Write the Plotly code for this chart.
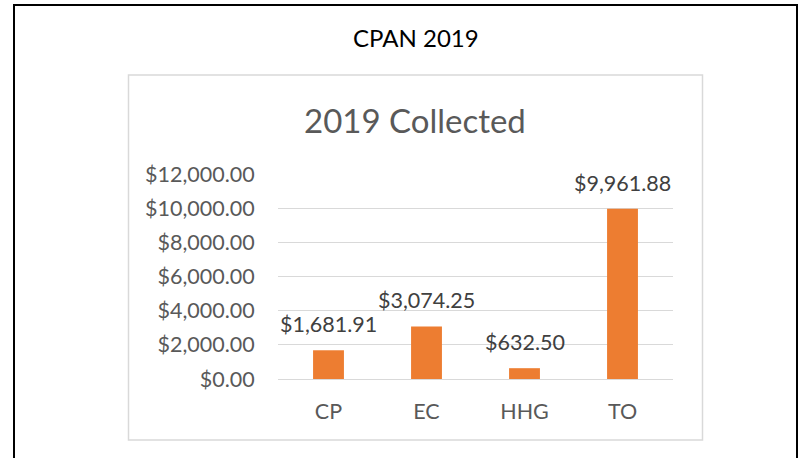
import plotly.graph_objects as go

categories = ["CP", "EC", "HHG", "TO"]
values = [1681.91, 3074.25, 632.50, 9961.88]
label_texts = ["$1,681.91", "$3,074.25", "$632.50", "$9,961.88"]
y_ticks = [0, 2000, 4000, 6000, 8000, 10000, 12000]
y_tick_labels = ["$0.00", "$2,000.00", "$4,000.00", "$6,000.00", "$8,000.00", "$10,000.00", "$12,000.00"]

W, H = 809, 458
FONT = "Lato, 'Open Sans', sans-serif"

def px_x(x):
    return x / W

def px_y(y):
    return 1 - y / H

fig = go.Figure()
fig.add_trace(go.Bar(
    x=categories, y=values, marker=dict(color="#ED7D31", line=dict(width=0)),
    width=0.315, hoverinfo="skip",
))

for c, v, t in zip(categories, values, label_texts):
    fig.add_annotation(x=c, y=v, xref="x", yref="y", text=t, showarrow=False,
                       yanchor="middle", yshift=26,
                       font=dict(family=FONT, size=21.5, color="#404040"))

# Titles
fig.add_annotation(x=px_x(416), y=px_y(37), xref="paper", yref="paper", text="CPAN 2019",
                   showarrow=False, xanchor="center", yanchor="middle",
                   font=dict(family=FONT, size=24, color="#000000"))
fig.add_annotation(x=px_x(415), y=px_y(120), xref="paper", yref="paper", text="2019 Collected",
                   showarrow=False, xanchor="center", yanchor="middle",
                   font=dict(family=FONT, size=33, color="#595959"))

shapes = [
    dict(type="rect", xref="paper", yref="paper", x0=px_x(14), x1=px_x(797), y0=px_y(470), y1=px_y(5),
         line=dict(color="#000000", width=2), fillcolor="rgba(0,0,0,0)", layer="below"),
    dict(type="rect", xref="paper", yref="paper", x0=px_x(128.5), x1=px_x(702.5), y0=px_y(440), y1=px_y(75),
         line=dict(color="#D9D9D9", width=1.5), fillcolor="rgba(0,0,0,0)", layer="below"),
]

fig.update_layout(
    width=W, height=H, autosize=False, margin=dict(l=0, r=0, t=0, b=0, pad=0, autoexpand=False),
    paper_bgcolor="white", plot_bgcolor="white", showlegend=False,
    shapes=shapes,
    xaxis=dict(domain=[px_x(278), px_x(673)], showgrid=False, showline=False, zeroline=False,
               automargin=False,
               ticks="outside", ticklen=13, tickcolor="rgba(0,0,0,0)",
               tickfont=dict(family=FONT, size=21.5, color="#595959"), fixedrange=True),
    yaxis=dict(domain=[px_y(379), px_y(174)], range=[0, 12000], tickvals=y_ticks, ticktext=y_tick_labels,
               automargin=False,
               showgrid=True, gridcolor="#D9D9D9", gridwidth=1, zeroline=True, zerolinecolor="#D9D9D9",
               zerolinewidth=1, showline=False, ticks="outside", ticklen=18, tickcolor="rgba(0,0,0,0)",
               tickfont=dict(family=FONT, size=21.5, color="#595959"), fixedrange=True),
)

fig.write_html(
    "out.html",
    config={"displayModeBar": False, "responsive": False},
    post_script="document.body.style.margin='0';document.body.style.overflow='hidden';",
)
